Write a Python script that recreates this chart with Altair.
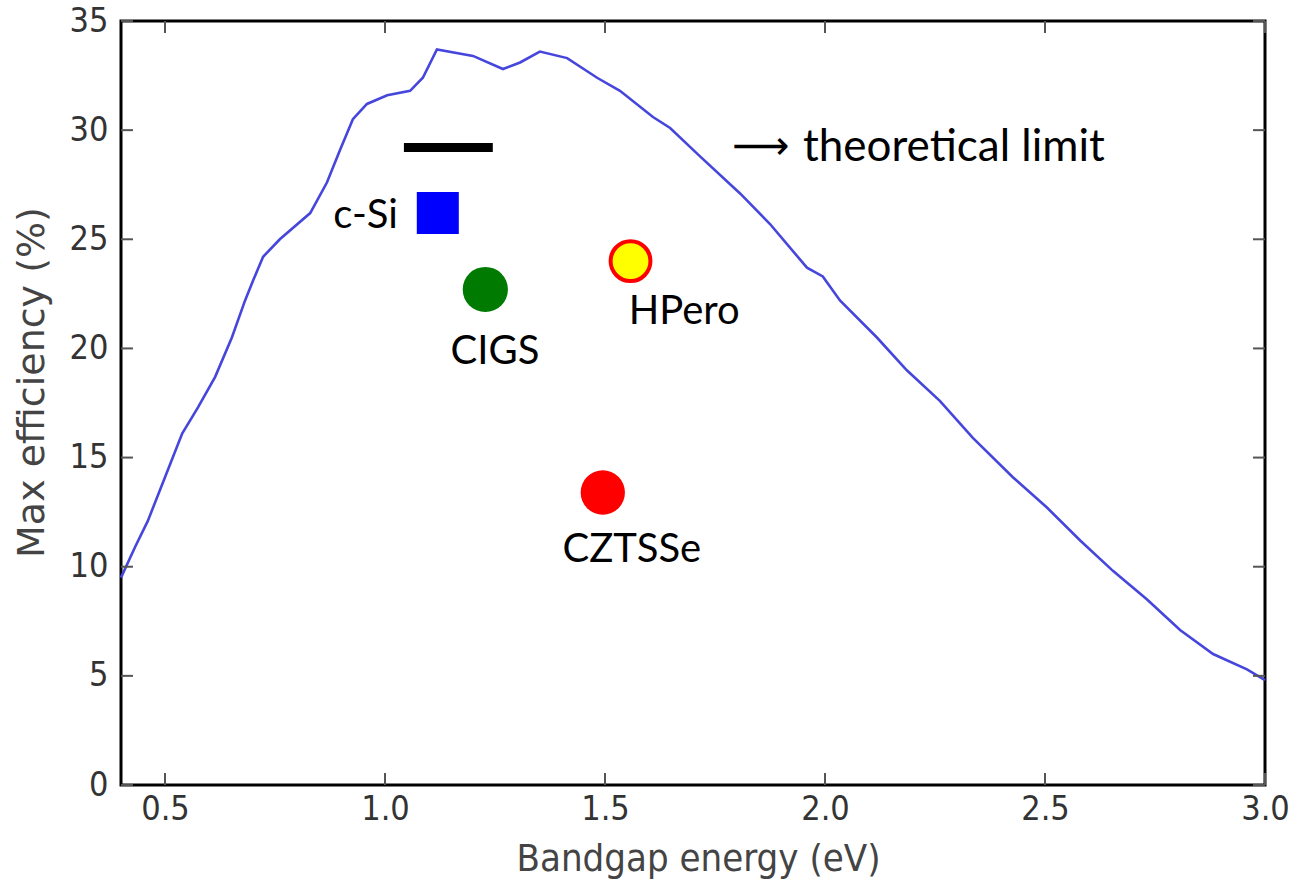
import altair as alt
import pandas as pd

# Maximum (Shockley-Queisser) efficiency vs. bandgap
curve_ev = [0.40, 0.432, 0.461, 0.500, 0.539, 0.575, 0.614, 0.652, 0.682, 0.700,
            0.723, 0.761, 0.830, 0.868, 0.898, 0.927, 0.959, 1.005, 1.057, 1.086,
            1.118, 1.200, 1.268, 1.307, 1.352, 1.414, 1.482, 1.534, 1.609, 1.648,
            1.716, 1.807, 1.875, 1.959, 1.995, 2.034, 2.118, 2.186, 2.261, 2.336,
            2.427, 2.505, 2.580, 2.655, 2.732, 2.807, 2.882, 2.959, 3.000]
curve_eff = [9.5, 10.9, 12.1, 14.1, 16.1, 17.3, 18.7, 20.5, 22.2, 23.1,
             24.2, 25.0, 26.2, 27.6, 29.1, 30.5, 31.2, 31.6, 31.8, 32.4,
             33.7, 33.4, 32.8, 33.1, 33.6, 33.3, 32.4, 31.8, 30.6, 30.1,
             28.8, 27.1, 25.7, 23.7, 23.3, 22.2, 20.5, 19.0, 17.6, 15.9,
             14.1, 12.7, 11.2, 9.8, 8.5, 7.1, 6.0, 5.3, 4.8]

# Record cells
materials = ["c-Si", "CIGS", "HPero", "CZTSSe"]
mat_gap = [1.12, 1.228, 1.558, 1.495]
mat_eff = [26.2, 22.7, 24.0, 13.4]

# Theoretical-limit bar and its legend text
limit_gap = [1.043, 1.245]
limit_eff = 29.2

# Label anchors (data coordinates)
label_gap = [1.0295, 1.25, 1.68, 1.561]
label_eff = [25.5, 19.3, 21.1, 10.2]
arrow_gap, arrow_eff = 1.789, 28.68
note_gap, note_eff = 1.950, 28.6

x_ticks = [0.5, 1.0, 1.5, 2.0, 2.5, 3.0]
y_ticks = [0, 5, 10, 15, 20, 25, 30, 35]

W, H = 1144, 764
FONT = "DejaVu Sans"
TICK_FONT = "DejaVu Sans Condensed, DejaVu Sans"
ANN_FONT = "Lato"

xs = alt.Scale(domain=[0.4, 3.0], nice=False, zero=False)
ys = alt.Scale(domain=[0, 35], nice=False, zero=False)

curve_df = pd.DataFrame({"ev": curve_ev, "eff": curve_eff})
mat_df = pd.DataFrame({"material": materials, "gap": mat_gap, "eff": mat_eff})
lab_df = pd.DataFrame({"material": materials, "gap": label_gap, "eff": label_eff})

base_axes = alt.Chart(curve_df).mark_line(color="#4646dc", strokeWidth=2.6).encode(
    x=alt.X("ev:Q", scale=xs,
            axis=alt.Axis(title="Bandgap energy (eV)", values=x_ticks, format=".1f",
                          ticks=False, domain=False, grid=False,
                          labelFont=TICK_FONT, labelFontSize=34, labelColor="#333333",
                          labelPadding=7, labelFlush=False,
                          titleFont=TICK_FONT, titleFontSize=38, titleFontWeight="normal",
                          titleColor="#444444", titleBaseline="alphabetic",
                          titleY=85, titleX=577)),
    y=alt.Y("eff:Q", scale=ys,
            axis=alt.Axis(title="Max efficiency (%)", values=y_ticks,
                          ticks=False, domain=False, grid=False,
                          labelFont=TICK_FONT, labelFontSize=34, labelColor="#333333",
                          labelPadding=13, labelFlush=False,
                          titleFont=FONT, titleFontSize=38, titleFontWeight="normal",
                          titleColor="#444444", titleBaseline="alphabetic",
                          titleAngle=-90, titleX=-78, titleY=361)),
)

# Inward tick marks on all four sides
xt = pd.DataFrame({"v": x_ticks})
yt = pd.DataFrame({"v": y_ticks})
tick_style = dict(color="#555555", strokeWidth=2)
ticks_bottom = alt.Chart(xt).mark_rule(**tick_style).encode(
    x=alt.X("v:Q", scale=xs), y=alt.value(H), y2=alt.value(H - 12))
ticks_top = alt.Chart(xt).mark_rule(**tick_style).encode(
    x=alt.X("v:Q", scale=xs), y=alt.value(0), y2=alt.value(12))
ticks_left = alt.Chart(yt).mark_rule(**tick_style).encode(
    y=alt.Y("v:Q", scale=ys), x=alt.value(0), x2=alt.value(12))
ticks_right = alt.Chart(yt).mark_rule(**tick_style).encode(
    y=alt.Y("v:Q", scale=ys), x=alt.value(W), x2=alt.value(W - 12))

# Theoretical-limit bar
limit_df = pd.DataFrame({"x1": [limit_gap[0]], "x2": [limit_gap[1]], "y": [limit_eff]})
limit_bar = alt.Chart(limit_df).mark_rule(color="black", strokeWidth=9).encode(
    x=alt.X("x1:Q", scale=xs), x2="x2:Q", y=alt.Y("y:Q", scale=ys))

# Markers
sq = alt.Chart(mat_df[mat_df.material == "c-Si"]).mark_point(
    shape="square", filled=True, color="#0000ff", size=1764, opacity=1).encode(
    x=alt.X("gap:Q", scale=xs), y=alt.Y("eff:Q", scale=ys))
cigs = alt.Chart(mat_df[mat_df.material == "CIGS"]).mark_point(
    shape="circle", filled=True, color="#007a00", size=2043, opacity=1).encode(
    x=alt.X("gap:Q", scale=xs), y=alt.Y("eff:Q", scale=ys))
czts = alt.Chart(mat_df[mat_df.material == "CZTSSe"]).mark_point(
    shape="circle", filled=True, color="#ff0000", size=1963, opacity=1).encode(
    x=alt.X("gap:Q", scale=xs), y=alt.Y("eff:Q", scale=ys))
hpero = alt.Chart(mat_df[mat_df.material == "HPero"]).mark_point(
    shape="circle", filled=True, fill="#ffff00", stroke="#ff0000", strokeWidth=4,
    size=1590, opacity=1, fillOpacity=1, strokeOpacity=1).encode(
    x=alt.X("gap:Q", scale=xs), y=alt.Y("eff:Q", scale=ys))

# Labels
txt = dict(font=ANN_FONT, fontSize=40, color="black", baseline="alphabetic")
lab_right = alt.Chart(lab_df[lab_df.material == "c-Si"]).mark_text(align="right", **txt).encode(
    x=alt.X("gap:Q", scale=xs), y=alt.Y("eff:Q", scale=ys), text="material:N")
lab_center = alt.Chart(lab_df[lab_df.material != "c-Si"]).mark_text(align="center", **txt).encode(
    x=alt.X("gap:Q", scale=xs), y=alt.Y("eff:Q", scale=ys), text="material:N")
arrow_df = pd.DataFrame({"gap": [arrow_gap], "eff": [arrow_eff], "t": ["\u27f6"]})
arrow = alt.Chart(arrow_df).mark_text(
    align="left", baseline="alphabetic", font="DejaVu Sans", fontSize=40, color="black").encode(
    x=alt.X("gap:Q", scale=xs), y=alt.Y("eff:Q", scale=ys), text="t:N")
note_df = pd.DataFrame({"gap": [note_gap], "eff": [note_eff], "t": ["theoretical limit"]})
note = alt.Chart(note_df).mark_text(
    align="left", baseline="alphabetic", font=ANN_FONT, fontSize=44, color="black").encode(
    x=alt.X("gap:Q", scale=xs), y=alt.Y("eff:Q", scale=ys), text="t:N")

chart = alt.layer(
    base_axes, ticks_bottom, ticks_top, ticks_left, ticks_right,
    limit_bar, sq, cigs, czts, hpero, lab_right, lab_center, arrow, note,
).properties(
    width=W, height=H,
    autosize=alt.AutoSizeParams(type="none"),
    padding={"left": 121, "top": 21, "right": 34, "bottom": 96},
    background="white",
).configure_view(stroke="black", strokeWidth=3)

chart.save("out.html", embed_options={"renderer": "svg", "actions": False})
